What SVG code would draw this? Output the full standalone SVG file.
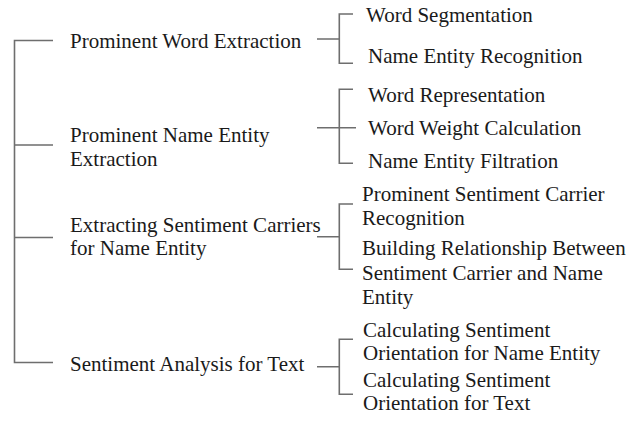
<svg xmlns="http://www.w3.org/2000/svg" width="640" height="422" viewBox="0 0 640 422">
<style>
text{font-family:"Liberation Serif","Times New Roman",serif;font-size:21px;fill:#1a1a1a}
.ln{stroke:#6e6e6e;stroke-width:1.6;fill:none}
</style>
<rect width="640" height="422" fill="#ffffff"/>
<g id="connectors">
<path class="ln" d="M53,40.5H14.5V362.5H53 M14.5,145H53 M14.5,237.5H53"/>
<path class="ln" d="M353,14H339.3V63.3H353 M317,39H339.3"/>
<path class="ln" d="M353,89.3H339.3V163.3H353 M317,127.7H356"/>
<path class="ln" d="M353,204H339.3V269.3H353 M317,236.7H339.3"/>
<path class="ln" d="M353,339.3H339.3V394.3H353 M317,366.7H339.3"/>
</g>
<g id="n1"><text x="70" y="48">Prominent Word Extraction</text></g>
<g id="n2"><text x="70" y="141.5">Prominent Name Entity</text><text x="70" y="165.5">Extraction</text></g>
<g id="n3"><text x="70" y="232">Extracting Sentiment Carriers</text><text x="70" y="255">for Name Entity</text></g>
<g id="n4"><text x="70" y="371">Sentiment Analysis for Text</text></g>
<g id="n1a"><text x="366" y="22">Word Segmentation</text></g>
<g id="n1b"><text x="368" y="63">Name Entity Recognition</text></g>
<g id="n2a"><text x="368" y="102">Word Representation</text></g>
<g id="n2b"><text x="368" y="135">Word Weight Calculation</text></g>
<g id="n2c"><text x="368" y="168">Name Entity Filtration</text></g>
<g id="n3a"><text x="362" y="200.5">Prominent Sentiment Carrier</text><text x="362" y="225">Recognition</text></g>
<g id="n3b"><text x="362" y="255">Building Relationship Between</text><text x="362" y="280">Sentiment Carrier and Name</text><text x="362" y="303.5">Entity</text></g>
<g id="n4a"><text x="363" y="336.5">Calculating Sentiment</text><text x="363" y="360">Orientation for Name Entity</text></g>
<g id="n4b"><text x="363" y="386.5">Calculating Sentiment</text><text x="363" y="410">Orientation for Text</text></g>
</svg>
